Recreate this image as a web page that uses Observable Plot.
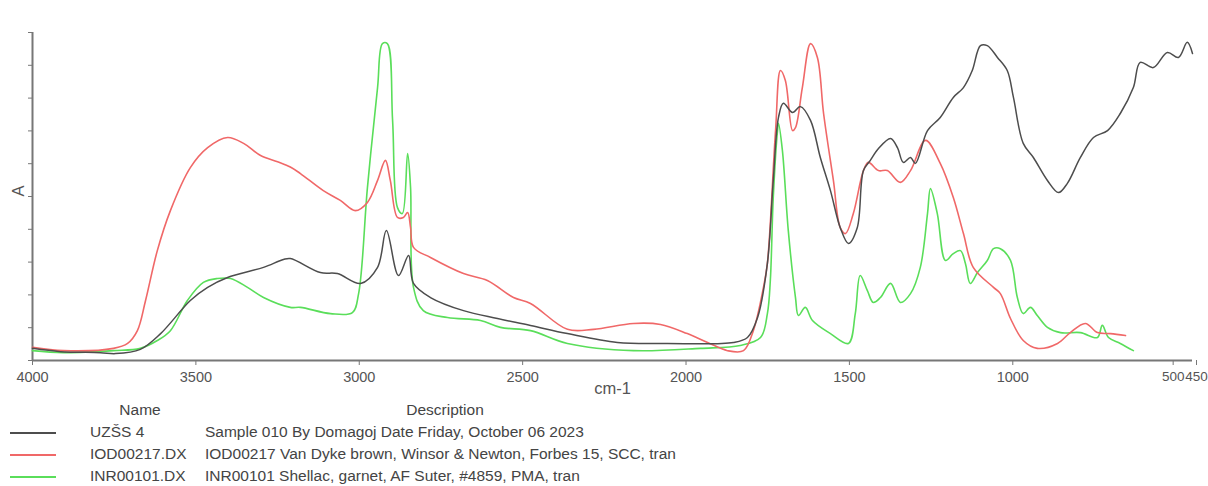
<!DOCTYPE html>
<html>
<head>
<meta charset="utf-8">
<script src="https://cdn.jsdelivr.net/npm/d3@7"></script>
<script src="https://cdn.jsdelivr.net/npm/@observablehq/plot@0.6"></script>
<style>
  html, body { margin: 0; padding: 0; background: #fff; }
  body { width: 1208px; height: 486px; overflow: hidden; font-family: "Liberation Sans", Arial, sans-serif; }
  #legend { position: relative; width: 1208px; height: 86px; color: #444; font-size: 15.5px; line-height: 18px; }
  #legend .hdr { position: absolute; top: 1px; transform: translateX(-50%); }
  #legend .row { position: absolute; left: 0; height: 22px; width: 1208px; }
  #legend .sw { position: absolute; left: 10px; top: 10px; width: 46px; height: 0; border-top: 2px solid; }
  #legend .nm { position: absolute; left: 90px; top: 1px; }
  #legend .ds { position: absolute; left: 205px; top: 1px; }
</style>
</head>
<body>
<div id="chart"></div>
<div id="legend"></div>
<script>
// ---- data (wavenumber cm-1, absorbance in arbitrary units 0..100) ----
const seriesNames = ["UZŠS 4", "IOD00217.DX", "INR00101.DX"];
const seriesDescriptions = [
  "Sample 010 By Domagoj Date Friday, October 06 2023",
  "IOD00217 Van Dyke brown, Winsor & Newton, Forbes 15, SCC, tran",
  "INR00101 Shellac, garnet, AF Suter, #4859, PMA, tran"
];
const seriesColors = ["#4d4d4d", "#f06868", "#5ade5a"];

const xTicksMain = [4000, 3500, 3000, 2500, 2000, 1500, 1000];
const xTick500 = [500];
const xTick450 = [450];
const yTicks = [0, 10, 20, 30, 40, 50, 60, 70, 80, 90, 100];

const uzss = [
  [4000,3.7],[3914,2.7],[3792,2.4],[3746,2.1],[3670,3.4],[3608,8.2],[3517,18.3],[3464,22.3],
  [3403,25.3],[3293,28.4],[3232,30.8],[3211,31.1],[3119,26.8],[3067,26.5],[2996,23.5],[2944,28.4],
  [2917,39.6],[2880,25.9],[2849,32.0],[2834,23.5],[2782,19.2],[2681,15.2],[2577,12.8],[2476,10.7],
  [2363,8.2],[2210,5.5],[2057,5.2],[1855,5.5],[1812,7.0],[1781,13.1],[1751,29.6],[1733,54.9],
  [1717,74.1],[1702,78.4],[1674,75.6],[1650,77.4],[1619,73.2],[1589,61.9],[1558,51.8],[1528,40.5],
  [1503,35.7],[1476,40.5],[1457,57.9],[1436,61.0],[1411,64.6],[1374,67.7],[1353,64.9],[1335,60.4],
  [1313,61.9],[1298,60.1],[1261,70.1],[1222,74.1],[1182,80.2],[1151,83.2],[1124,88.4],[1099,96.0],
  [1078,96.0],[1047,92.4],[1017,88.4],[998,80.2],[968,66.2],[937,61.9],[894,54.9],[860,51.2],
  [833,54.0],[793,61.9],[753,68.0],[710,70.1],[671,75.3],[631,83.2],[610,90.9],[570,89.3],
  [527,93.9],[493,92.4],[466,97.0],[450,93.6]
];

const iod00217 = [
  [4000,4.0],[3905,3.0],[3752,3.7],[3709,5.2],[3679,9.1],[3654,18.3],[3618,33.5],[3578,45.7],
  [3517,58.8],[3464,64.9],[3403,68.0],[3354,66.2],[3302,62.5],[3250,60.6],[3211,59.0],[3180,57.0],
  [3110,51.8],[3058,48.8],[3012,45.7],[2975,48.2],[2944,54.9],[2920,61.0],[2905,54.9],[2883,43.6],
  [2865,43.6],[2852,45.1],[2843,40.5],[2834,34.5],[2782,31.4],[2681,26.5],[2608,24.4],[2528,19.2],
  [2476,17.4],[2363,9.5],[2283,9.5],[2161,11.3],[2078,11.0],[1996,8.2],[1934,5.5],[1873,3.0],
  [1824,3.0],[1794,9.1],[1763,22.3],[1751,29.6],[1726,70.1],[1711,88.4],[1696,85.4],[1674,70.1],
  [1665,71.0],[1644,83.2],[1619,96.6],[1598,92.4],[1579,75.3],[1549,54.9],[1528,40.5],[1512,38.7],
  [1488,44.8],[1457,57.9],[1442,60.4],[1411,57.9],[1384,57.9],[1344,54.3],[1313,57.9],[1267,67.1],
  [1222,60.1],[1182,49.7],[1151,38.7],[1121,28.4],[1059,22.3],[1038,20.4],[1007,12.8],[968,6.1],
  [925,3.7],[863,5.2],[824,8.5],[778,11.3],[741,8.5],[701,8.2],[655,7.6]
];

const inr00101 = [
  [4000,3.0],[3905,2.4],[3752,3.0],[3670,3.7],[3618,6.1],[3578,9.1],[3526,18.3],[3477,23.8],
  [3434,25.0],[3394,25.0],[3342,22.3],[3293,19.2],[3211,16.2],[3180,16.2],[3088,14.3],[3021,14.6],
  [3002,20.4],[2975,52.7],[2944,83.2],[2929,96.6],[2914,96.6],[2898,73.2],[2883,46.6],[2868,44.8],
  [2852,63.1],[2843,52.7],[2834,22.3],[2804,15.2],[2730,13.1],[2629,12.2],[2568,10.1],[2476,9.1],
  [2363,5.2],[2161,3.0],[1956,3.7],[1834,4.6],[1772,7.0],[1751,14.3],[1742,24.4],[1733,49.7],
  [1720,70.1],[1717,72.3],[1705,64.0],[1687,39.6],[1665,19.2],[1656,13.7],[1635,16.2],[1613,12.2],
  [1558,8.2],[1503,5.2],[1482,14.3],[1467,25.9],[1445,21.3],[1427,17.7],[1405,19.2],[1374,23.5],
  [1344,17.7],[1313,20.4],[1283,28.4],[1261,44.8],[1252,52.4],[1231,44.8],[1206,30.5],[1182,32.6],
  [1160,33.5],[1145,29.6],[1130,23.5],[1108,26.8],[1078,30.5],[1059,34.1],[1038,34.1],[1007,30.5],
  [986,19.2],[968,14.3],[946,16.2],[925,13.7],[894,10.1],[854,8.5],[793,8.5],[741,7.0],
  [726,10.7],[707,7.0],[671,5.2],[631,3.0]
];

const allSeries = [uzss, iod00217, inr00101];
const rows = allSeries.flatMap((s, i) => s.map(([w, a]) => ({name: seriesNames[i], w, a})));

const axisColor = "#777";
const tickText = {tickSize: 5, tickPadding: 6, stroke: axisColor, fill: "#555", label: null, tickFormat: d => String(d)};
const chart = Plot.plot({
  width: 1208,
  height: 400,
  marginLeft: 32,
  marginRight: 16,
  marginTop: 32,
  marginBottom: 40,
  style: {fontFamily: "Liberation Sans, Arial, sans-serif", fontSize: "14px", color: "#555", background: "#fff"},
  x: {domain: [4000, 450], label: null},
  y: {domain: [0, 100], label: null},
  color: {domain: seriesNames, range: seriesColors},
  marks: [
    Plot.ruleY([0], {stroke: axisColor, strokeWidth: 2}),
    Plot.ruleX([4000], {stroke: axisColor, strokeWidth: 2}),
    Plot.axisX({ticks: xTicksMain, ...tickText, fontSize: 14.5}),
    Plot.axisX({ticks: xTick500, ...tickText, fontSize: 13.5, dx: -3}),
    Plot.axisX({ticks: xTick450, ...tickText, fontSize: 13.5, dx: 4}),
    Plot.axisY({ticks: yTicks, tickFormat: () => "", tickSize: 4, stroke: axisColor, label: null}),
    Plot.text(["cm-1"], {frameAnchor: "bottom", dy: 33, text: d => d, fontSize: 16.5, fill: "#555"}),
    Plot.text(["A"], {frameAnchor: "left", dx: -14, rotate: -90, text: d => d, fontSize: 16.5, fill: "#555"}),
    Plot.line(rows.filter(d => d.name === seriesNames[2]), {x: "w", y: "a", stroke: "name", strokeWidth: 1.6, curve: "catmull-rom"}),
    Plot.line(rows.filter(d => d.name === seriesNames[1]), {x: "w", y: "a", stroke: "name", strokeWidth: 1.6, curve: "catmull-rom"}),
    Plot.line(rows.filter(d => d.name === seriesNames[0]), {x: "w", y: "a", stroke: "name", strokeWidth: 1.5, curve: "catmull-rom"})
  ]
});
document.getElementById("chart").append(chart);

// legend table
const lg = document.getElementById("legend");
const h1 = document.createElement("div"); h1.className = "hdr"; h1.style.left = "140px"; h1.textContent = "Name"; lg.append(h1);
const h2 = document.createElement("div"); h2.className = "hdr"; h2.style.left = "445px"; h2.textContent = "Description"; lg.append(h2);
seriesNames.forEach((n, i) => {
  const r = document.createElement("div"); r.className = "row"; r.style.top = (22 + i * 22) + "px";
  const sw = document.createElement("div"); sw.className = "sw"; sw.style.borderTopColor = seriesColors[i];
  const nm = document.createElement("div"); nm.className = "nm"; nm.textContent = n;
  const ds = document.createElement("div"); ds.className = "ds"; ds.textContent = seriesDescriptions[i];
  r.append(sw, nm, ds); lg.append(r);
});
</script>
</body>
</html>
